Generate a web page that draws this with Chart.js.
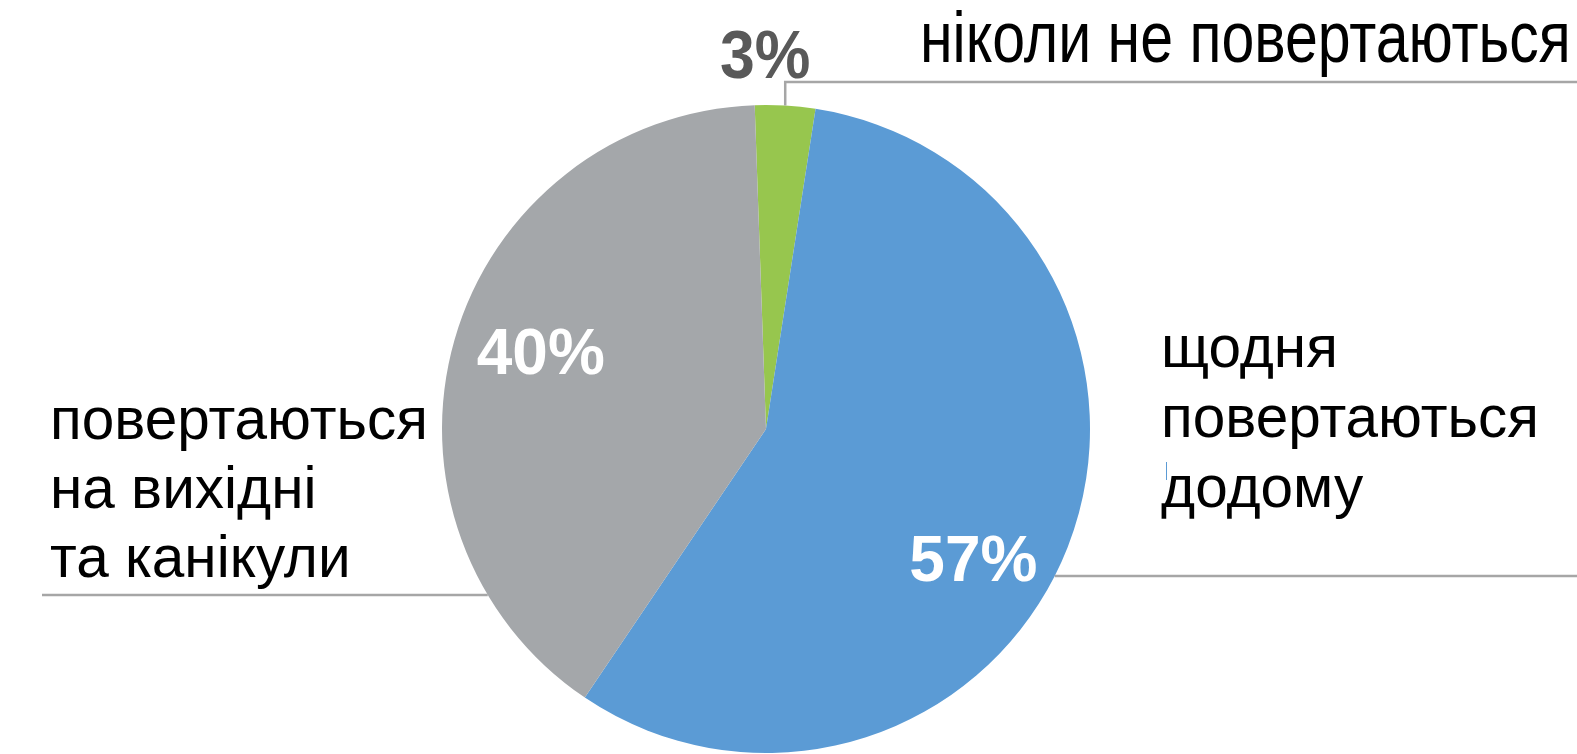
<!DOCTYPE html>
<html>
<head>
<meta charset="utf-8">
<script src="https://cdn.jsdelivr.net/npm/chart.js@4.4.1/dist/chart.umd.min.js"></script>
<style>
  html, body { margin: 0; padding: 0; background: #fff; }
  #wrap { width: 1577px; height: 754px; position: relative; }
</style>
</head>
<body>
<div id="wrap"><canvas id="pie" width="1577" height="754"></canvas></div>
<script>
// данні з діаграми
const categories = ['ніколи не повертаються', 'щодня повертаються додому', 'повертаються на вихідні та канікули'];
const shares = [3, 57, 40];
const sliceColors = ['#97c64e', '#5b9bd5', '#a4a7aa'];
const percentLabels = shares.map(v => v + '%');

// рядки підписів категорій
const labelLines = [
    ['ніколи не повертаються'],
    ['щодня', 'повертаються', 'додому'],
    ['повертаються', 'на вихідні', 'та канікули']
];

const LINE_COLOR = '#a6a6a6';
const FONT = '"Liberation Sans", Arial, sans-serif';

function drawText(ctx, text, x, y, font, color, align, sx) {
    ctx.save();
    ctx.font = font;
    ctx.fillStyle = color;
    ctx.textBaseline = 'alphabetic';
    ctx.translate(x, y);
    ctx.scale(sx || 1, 1);
    const w = ctx.measureText(text).width;
    let dx = 0;
    if (align === 'center') dx = -w / 2;
    if (align === 'right') dx = -w;
    ctx.fillText(text, dx, 0);
    ctx.restore();
}

const calloutPlugin = {
    id: 'callouts',
    afterDatasetsDraw(chart) {
        const ctx = chart.ctx;
        const arcs = chart.getDatasetMeta(0).data;
        const cx = arcs[0].x, cy = arcs[0].y, r = arcs[0].outerRadius;
        const W = chart.width;

        ctx.save();
        ctx.strokeStyle = LINE_COLOR;
        ctx.lineWidth = 2.5;

        // 0: ніколи — вертикальна лінія від дуги вгору, потім вправо
        const a0 = (arcs[0].startAngle + arcs[0].endAngle) / 2;
        const x0 = cx + r * Math.cos(a0);
        const y0 = cy + r * Math.sin(a0);
        const topY = 82;
        ctx.beginPath();
        ctx.moveTo(x0, y0);
        ctx.lineTo(x0, topY);
        ctx.lineTo(W, topY);
        ctx.stroke();

        // 1: щодня — горизонталь вправо від краю
        const y1 = 576;
        const dx1 = Math.sqrt(r * r - (y1 - cy) * (y1 - cy));
        ctx.beginPath();
        ctx.moveTo(cx + dx1, y1);
        ctx.lineTo(W, y1);
        ctx.stroke();

        // 2: вихідні — горизонталь вліво від краю
        const y2 = 595;
        const dx2 = Math.sqrt(r * r - (y2 - cy) * (y2 - cy));
        ctx.beginPath();
        ctx.moveTo(cx - dx2, y2);
        ctx.lineTo(42, y2);
        ctx.stroke();
        ctx.restore();

        // маленька синя риска біля тексту
        ctx.save();
        ctx.strokeStyle = '#5b9bd5';
        ctx.lineWidth = 1;
        ctx.beginPath();
        ctx.moveTo(1166.5, 462);
        ctx.lineTo(1166.5, 480);
        ctx.stroke();
        ctx.restore();

        // підписи категорій
        const catFont = '58.5px ' + FONT;
        drawText(ctx, labelLines[0][0], 920, 62, '72px ' + FONT, '#000', 'left', 0.82);
        labelLines[1].forEach((t, i) => drawText(ctx, t, 1161, 367 + i * 70, catFont, '#000', 'left'));
        labelLines[2].forEach((t, i) => drawText(ctx, t, 50, 439 + i * 69, catFont, '#000', 'left'));

        // відсотки
        const pctFont = 'bold 64px ' + FONT;
        drawText(ctx, percentLabels[0], x0 - 20, 78, 'bold 68px ' + FONT, '#595959', 'center', 0.92);
        drawText(ctx, percentLabels[1], cx + r * 0.64, cy + r * 0.47, pctFont, '#fff', 'center');
        drawText(ctx, percentLabels[2], cx - r * 0.695, cy - r * 0.17, pctFont, '#fff', 'center');
    }
};

new Chart(document.getElementById('pie'), {
    type: 'pie',
    data: {
        labels: categories,
        datasets: [{
            data: shares,
            backgroundColor: sliceColors,
            borderWidth: 0
        }]
    },
    options: {
        responsive: false,
        animation: false,
        rotation: -2,
        layout: { padding: { left: 442, right: 487, top: 105, bottom: 1 } },
        plugins: {
            legend: { display: false },
            tooltip: { enabled: false }
        }
    },
    plugins: [calloutPlugin]
});
</script>
</body>
</html>
